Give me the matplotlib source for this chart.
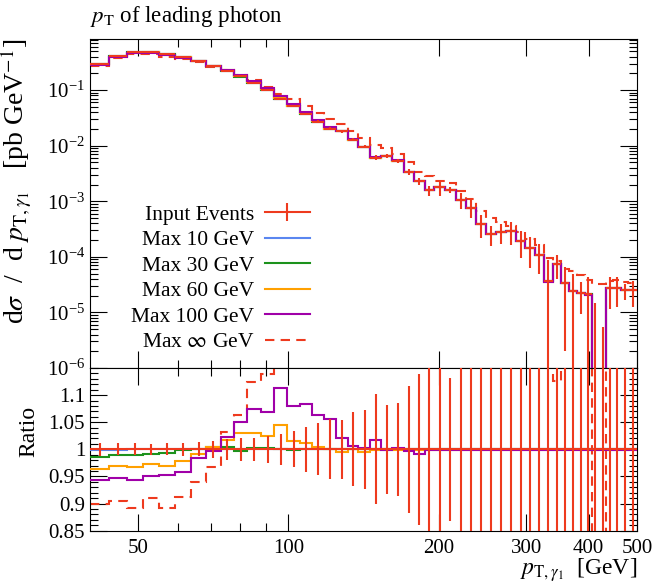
import numpy as np
import matplotlib
matplotlib.use('Agg')
import matplotlib.pyplot as plt
from matplotlib.lines import Line2D
from matplotlib.ticker import FixedLocator, FixedFormatter, NullFormatter, LogLocator

plt.rcParams['font.family'] = 'serif'
plt.rcParams['font.serif'] = ['Liberation Serif', 'DejaVu Serif']
plt.rcParams['mathtext.fontset'] = 'stix'

# bin edges in GeV
edges = [40, 43.7, 47.4, 51.2, 54.9, 59.3, 63.8, 68.4, 73.1, 77.7, 82.7, 88.2, 93.6,
         99.5, 105.5, 111.4, 118.1, 124.5, 131.4, 138.2, 146.0, 153.5, 161.3, 170.3,
         178.3, 187.6, 196.0, 206.2, 216.3, 226.6, 237.3, 248.5, 260.3, 272.7, 285.6,
         298.7, 311.7, 324.9, 338.5, 352.1, 365.6, 379.2, 392.6, 405.6, 419.4, 433.5,
         447.4, 464.0, 480.7, 500]

# Input Events (reference) and its error
ref = [0.30, 0.41, 0.49, 0.49, 0.45, 0.40, 0.335, 0.272, 0.222, 0.176, 0.136, 0.101,
       0.069, 0.0515, 0.0378, 0.0272, 0.0203, 0.0182, 0.0129, 0.0096, 0.0061, 0.0065,
       0.0054, 0.0034, 0.0023, 0.00158, 0.00179, 0.0016, 0.00106, 0.00077, 0.00039,
       0.000256, 0.00028, 0.000294, 0.000195, 0.000144, 0.000109, 3.6e-5, 7.5e-5,
       3.4e-5, 2.4e-5, 2.25e-5, 2.1e-5, 0, 0, 2.75e-5, 2.75e-5, 2.5e-5, 2.5e-5]
ref_err = [0.0036, 0.0045, 0.0054, 0.0049, 0.0050, 0.0048, 0.0044, 0.0041, 0.0044,
           0.0037, 0.0029, 0.0025, 0.0020, 0.0017, 0.00155, 0.0013, 0.00112, 0.0010,
           0.00088, 0.0007, 0.00062, 0.00053, 0.00046, 0.0004, 0.00032, 0.00032,
           0.00054, 0.00021, 0.00032, 0.00027, 0.000175, 0.0001, 0.00011, 0.00013,
           0.0001, 8e-5, 6e-5, 5.3e-5, 3.5e-5, 3.2e-5, 2.6e-5, 1.3e-5, 2.3e-5,
           1.5e-5, 5.4e-6, 1.6e-5, 1.5e-5, 0.8e-5, 1.25e-5]

# ratios to Input Events
r10 = [0.998, 0.999] + [1.0] * 47
r30 = [0.986, 0.990, 0.989, 0.991, 0.993, 0.998, 1.001, 1.004, 1.005, 0.997, 1.002,
       1.003, 1.001, 0.999] + [1.0] * 35
r60 = [0.964, 0.969, 0.967, 0.973, 0.970, 0.979, 0.992, 1.004, 1.018, 1.031, 1.030,
       1.025, 1.045, 1.016, 1.012, 1.005, 1.0, 0.995, 1.0, 0.996] + [0.999] * 29
r100 = [0.943, 0.947, 0.943, 0.951, 0.953, 0.958, 0.984, 0.997, 1.022, 1.050, 1.075,
        1.068, 1.113, 1.079, 1.083, 1.064, 1.056, 1.021, 1.007, 1.003, 1.018, 0.998,
        1.003, 0.997, 0.991] + [0.998] * 24

# Max inf GeV
maxinf = [0.270, 0.371, 0.437, 0.446, 0.401, 0.365, 0.315, 0.263, 0.229, 0.187, 0.153,
          0.115, 0.086, 0.0695, 0.051, 0.038, 0.0302, 0.0242, 0.0186, 0.0135, 0.0103,
          0.0089, 0.0070, 0.0051, 0.0034, 0.0028, 0.0023, 0.0021, 0.0015, 0.0011,
          0.00068, 0.0005, 0.00042, 0.00036, 0.00028, 0.00021, 0.00016, 9.6e-5, 8.45e-5,
          6.0e-5, 5.5e-5, 4.8e-5, 3.8e-5, 3.2e-5, 3.2e-5, 3.7e-5, 3.9e-5, 3.5e-5, 3.4e-5]

labels = ['Max 10 GeV', 'Max 30 GeV', 'Max 60 GeV', 'Max 100 GeV']
colors = ['#5a86f0', '#1c921c', '#ffa000', '#a000a8']
red = '#ee3a1e'

edges = np.array(edges)
ref = np.array(ref)
ref_err = np.array(ref_err)
centers = 0.5 * (edges[1:] + edges[:-1])
halfw = 0.5 * (edges[1:] - edges[:-1])
tiny = 1e-12

fig = plt.figure(figsize=(6.65, 5.83), dpi=100)
ax = fig.add_axes([0.1353, 0.3688, 0.8226, 0.5643])
rax = fig.add_axes([0.1353, 0.0897, 0.8226, 0.2791])

lw = 1.5
dash = (0, (4.5, 3))
handles = []
for r, lab, c in zip([r10, r30, r60, r100], labels, colors):
    vals = ref * np.array(r)
    vals = np.where(vals > 0, vals, tiny)
    ax.stairs(vals, edges, color=c, lw=lw, baseline=None, zorder=3)
    rax.stairs(r, edges, color=c, lw=lw, baseline=None, zorder=3)
    handles.append(Line2D([], [], color=c, lw=lw))

inf = np.array(maxinf)
ax.stairs(inf, edges, color=red, lw=lw, ls=dash, baseline=None, zorder=2)

y_plot = np.where(ref > 0, ref, tiny)
lo = y_plot - np.maximum(ref - ref_err, tiny)
hi = ref + ref_err - y_plot
ax.errorbar(centers, y_plot, xerr=halfw, yerr=[lo, hi], fmt='none',
            ecolor=red, elinewidth=lw, capsize=0, zorder=4)

# ratio panel
inf_ratio = np.where(ref > 0, inf / np.where(ref > 0, ref, 1), 0)
rax.stairs(inf_ratio, edges, color=red, lw=lw, ls=dash, baseline=None, zorder=2)
rel = np.where(ref > 0, ref_err / np.where(ref > 0, ref, 1), 10)
rax.errorbar(centers, np.ones_like(centers), xerr=halfw, yerr=rel, fmt='none',
             ecolor=red, elinewidth=lw, capsize=0, zorder=4)

# axes
xmaj = [50, 100, 200, 300, 400, 500]
xmin = [60, 70, 80, 90]
for a in (ax, rax):
    a.set_xscale('log')
    a.set_xlim(40, 500)
    a.xaxis.set_major_locator(FixedLocator(xmaj))
    a.xaxis.set_minor_locator(FixedLocator(xmin))
    a.xaxis.set_minor_formatter(NullFormatter())
    a.tick_params(which='both', direction='in', top=True, right=True, width=0.8)
    a.tick_params(which='major', length=12, labelsize=15)
    a.tick_params(which='minor', length=5.5)
    for s in a.spines.values():
        s.set_linewidth(0.8)
ax.xaxis.set_major_formatter(NullFormatter())
rax.xaxis.set_major_formatter(FixedFormatter([str(v) for v in xmaj]))
rax.tick_params(axis='x', pad=6)

ax.set_yscale('log')
ax.set_ylim(1e-6, 0.83)
ax.yaxis.set_major_locator(LogLocator(base=10, numticks=20))
ax.yaxis.set_minor_locator(LogLocator(base=10, subs=np.arange(2, 10), numticks=20))

rax.set_ylim(0.85, 1.15)
rax.yaxis.set_major_locator(FixedLocator([0.85, 0.9, 0.95, 1.0, 1.05, 1.1]))
rax.yaxis.set_major_formatter(FixedFormatter(['0.85', '0.9', '0.95', '1', '1.05', '1.1']))
rax.yaxis.set_minor_locator(FixedLocator(np.arange(0.85, 1.151, 0.01)))

ax.text(0.0, 1.03, r'$p_\mathrm{T}$ of leading photon', transform=ax.transAxes,
        fontsize=16.5, ha='left', va='bottom')
ax.set_ylabel(r'd$\sigma$  /  d $p_{\mathrm{T},\gamma_1}$   [pb GeV$^{-1}$]', fontsize=20)
ax.yaxis.set_label_coords(-0.103, 1.0)
ax.yaxis.label.set_ha('right')
rax.set_ylabel('Ratio', fontsize=17)
rax.yaxis.set_label_coords(-0.093, 0.77)
rax.yaxis.label.set_ha('right')
rax.set_xlabel(r'$p_{\mathrm{T},\gamma_1}$  [GeV]', fontsize=17, ha='right', va='baseline')
rax.xaxis.set_label_coords(1.0, -0.27)

ref_handle = Line2D([], [], color=red, lw=lw, marker='|', markersize=13, mew=lw)
leg_handles = [ref_handle] + handles + [Line2D([], [], color=red, lw=lw, ls=dash)]
leg_labels = ['Input Events'] + labels + [r'Max $\infty$ GeV']
ax.legend(leg_handles, leg_labels, loc='upper right', bbox_to_anchor=(0.418, 0.522),
          frameon=False, markerfirst=False, fontsize=15.5, handlelength=2.1,
          handletextpad=0.5, labelspacing=0.25, borderaxespad=0)

fig.savefig('out.png', dpi=100)
